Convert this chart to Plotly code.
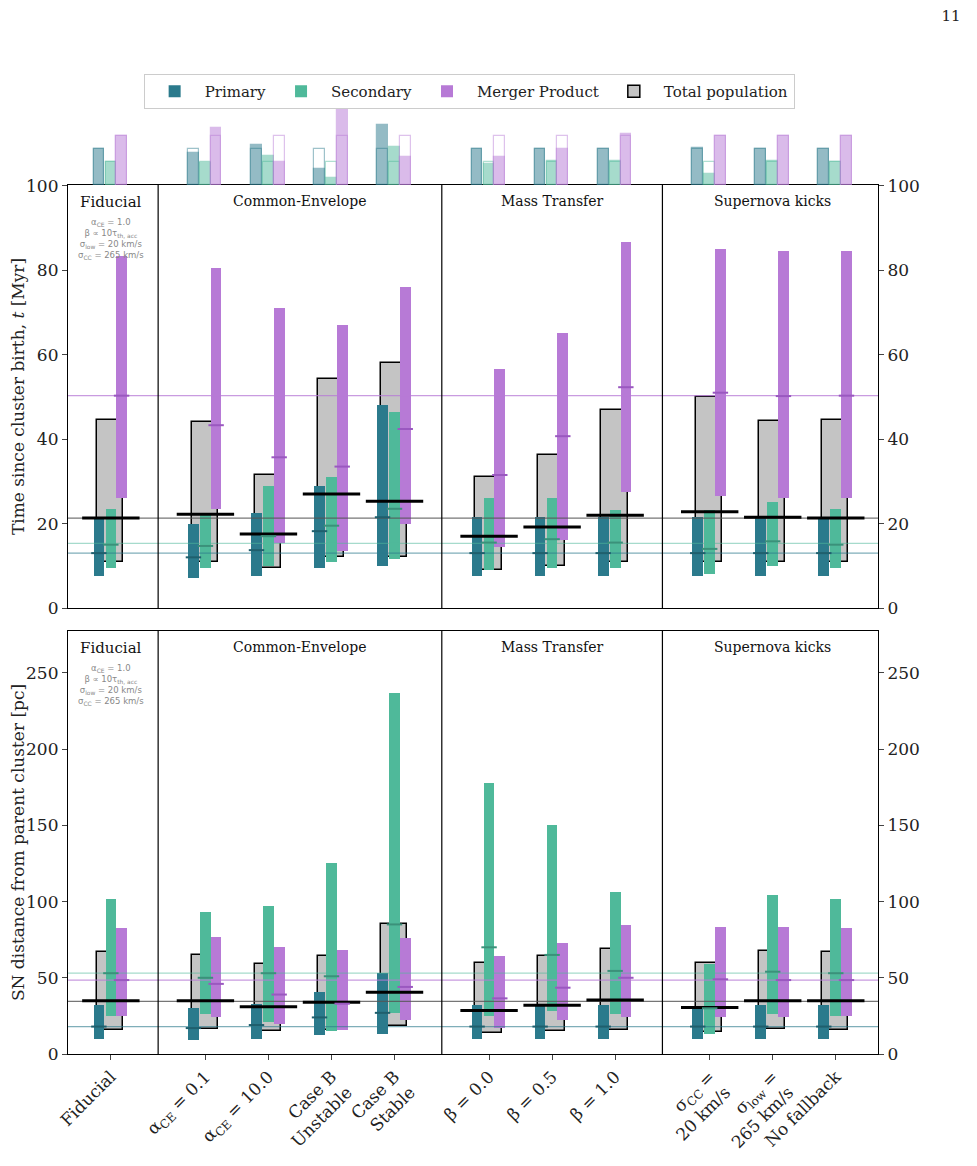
import plotly.graph_objects as go

cats = ["Fiducial", "α<sub>CE</sub> = 0.1", "α<sub>CE</sub> = 10.0", "Case B<br>Unstable", "Case B<br>Stable",
        "β = 0.0", "β = 0.5", "β = 1.0", "σ<sub>CC</sub> =<br>20 km/s", "σ<sub>low</sub> =<br>265 km/s", "No fallback"]
pos = [0, 1.5, 2.5, 3.5, 4.5, 6.0, 7.0, 8.0, 9.5, 10.5, 11.5]
seps = [0.75, 5.25, 8.75]
groups = ["Fiducial", "Common-Envelope", "Mass Transfer", "Supernova kicks"]
group_x = [0, 3.0, 7.0, 10.5]

# histogram heights (arbitrary units)
h_prim = [36, 32, 40, 16, 60, 36, 36, 36, 37, 36, 36]
h_sec = [23, 22, 29, 7, 38, 21, 24, 24, 11, 24, 23]
h_merg = [49, 57, 23, 80, 28, 28, 36, 51, 49, 49, 49]

# time panel [Myr]
t_tot_lo = [10.8, 11, 9.5, 12, 12, 9, 10, 11, 11, 11, 10.8]
t_tot_hi = [44.6, 44, 31.5, 54.2, 58, 31, 36.2, 47, 50, 44.3, 44.5]
t_tot_med = [21.3, 22.2, 17.5, 27, 25.3, 17, 19.2, 22, 22.8, 21.5, 21.3]
t_p_lo = [7.5, 7, 7.5, 9.5, 10, 7.5, 7.5, 7.5, 7.5, 7.5, 7.5]
t_p_hi = [21.5, 20, 22.5, 29, 48, 21.5, 21.5, 21.5, 21.5, 21.5, 21.5]
t_p_med = [13, 12, 13.7, 18.2, 21.5, 13, 13, 13, 13, 13, 13]
t_s_lo = [9.5, 9.5, 10, 11, 11.5, 9, 9.5, 9.5, 8, 10, 9.5]
t_s_hi = [23.5, 22.5, 29, 31, 46.5, 26, 26, 23.3, 23.3, 25, 23.4]
t_s_med = [15, 14.7, 17, 19.5, 23.5, 15.5, 16.3, 15.5, 14, 15.8, 15]
t_m_lo = [26, 23.5, 15.5, 13.5, 20, 14.5, 16, 27.5, 26.5, 26, 26]
t_m_hi = [83.5, 80.5, 71, 67, 76, 56.7, 65.2, 86.6, 85, 84.5, 84.5]
t_m_med = [50.3, 43.3, 35.7, 33.5, 42.4, 31.5, 40.7, 52.3, 51, 50.2, 50.3]
t_ref = [21.3, 13, 15.3, 50.3]

# distance panel [pc]
d_tot_lo = [16, 16.5, 15, 16, 18.5, 14, 15, 16, 14.5, 16.5, 16]
d_tot_hi = [67, 65, 59, 64, 85, 59.5, 64.5, 69, 59.5, 67.5, 67]
d_tot_med = [35, 35, 31, 34, 40.5, 28.5, 32, 35.5, 30.5, 35, 35]
d_p_lo = [10, 9.5, 10, 12.5, 13, 10, 10, 10, 10, 10, 10]
d_p_hi = [32, 30, 33, 41, 53, 32, 32, 32, 31, 32, 32]
d_p_med = [18, 17, 19, 24, 27, 18, 18, 18, 18, 18, 18]
d_s_lo = [25, 26, 21, 15, 27, 25, 28, 26, 13, 26, 25]
d_s_hi = [102, 93, 97, 125, 237, 178, 150.5, 106.5, 59, 104, 102]
d_s_med = [53, 50, 53, 51, 85, 70, 65, 54.5, 30, 54, 53]
d_m_lo = [25, 24.5, 19.5, 16, 22, 17, 22, 24.5, 24, 24.5, 25]
d_m_hi = [82.5, 77, 70, 68, 76, 64.5, 73, 84.5, 83, 83, 82.5]
d_m_med = [48.5, 46, 39, 33, 44, 36.5, 43.5, 50, 49, 48.5, 48.5]
d_ref = [34.5, 18, 53, 48.5]

C_P, C_S, C_M, C_T = "#2b7a8c", "#4fb99a", "#b77ad6", "#c4c4c4"
D_P, D_S, D_M = "#1f5f6d", "#3b917a", "#9a58c0"
OFF = {"p": -0.19, "s": 0.0, "m": 0.17}
W = 0.17
XR = [-0.68, 12.17]
FONT = "DejaVu Serif"

fig = go.Figure()

def sh(off):
    return [p + off for p in pos]

def panel(xa, ya, tlo, thi, tmed, plo, phi, pmed, slo, shi, smed, mlo, mhi, mmed, ref, leg):
    for val, col, op in zip(ref, ["#555555", C_P, C_S, C_M], [0.8, 0.6, 0.5, 0.75]):
        fig.add_trace(go.Scatter(x=XR, y=[val, val], mode="lines", xaxis=xa, yaxis=ya,
                                 line=dict(color=col, width=1.3), opacity=op, showlegend=False, hoverinfo="skip"))
    fig.add_trace(go.Bar(x=pos, y=[h - l for h, l in zip(thi, tlo)], base=tlo, width=0.42,
                         offset=-0.22, marker=dict(color=C_T, line=dict(color="black", width=1.5)),
                         xaxis=xa, yaxis=ya, name="Total population", showlegend=leg, legendrank=4))
    fig.add_trace(go.Scatter(x=pos, y=tmed, mode="markers", xaxis=xa, yaxis=ya, showlegend=False,
                             marker=dict(symbol="line-ew", size=41, line=dict(color="black", width=3))))
    for key, lo, hi, med, col, dcol, nm, rk in [("p", plo, phi, pmed, C_P, D_P, "Primary", 1),
                                                ("s", slo, shi, smed, C_S, D_S, "Secondary", 2),
                                                ("m", mlo, mhi, mmed, C_M, D_M, "Merger Product", 3)]:
        fig.add_trace(go.Bar(x=sh(OFF[key]), y=[h - l for h, l in zip(hi, lo)], base=lo, width=W,
                             marker=dict(color=col, line=dict(width=0)), xaxis=xa, yaxis=ya,
                             name=nm, showlegend=leg, legendrank=rk))
        fig.add_trace(go.Scatter(x=sh(OFF[key]), y=med, mode="markers", xaxis=xa, yaxis=ya, showlegend=False,
                                 marker=dict(symbol="line-ew", size=11, line=dict(color=dcol, width=2))))

panel("x2", "y2", t_tot_lo, t_tot_hi, t_tot_med, t_p_lo, t_p_hi, t_p_med, t_s_lo, t_s_hi, t_s_med,
      t_m_lo, t_m_hi, t_m_med, t_ref, True)
panel("x", "y", d_tot_lo, d_tot_hi, d_tot_med, d_p_lo, d_p_hi, d_p_med, d_s_lo, d_s_hi, d_s_med,
      d_m_lo, d_m_hi, d_m_med, d_ref, False)

for key, hv, col in [("p", h_prim, C_P), ("s", h_sec, C_S), ("m", h_merg, C_M)]:
    fig.add_trace(go.Bar(x=sh(OFF[key]), y=[hv[0]] * len(pos), width=W, xaxis="x3", yaxis="y3",
                         marker=dict(color="rgba(0,0,0,0)", line=dict(color=col, width=1.2)),
                         opacity=0.45, showlegend=False))
    fig.add_trace(go.Bar(x=sh(OFF[key]), y=hv, width=W, xaxis="x3", yaxis="y3",
                         marker=dict(color=col, opacity=0.5, line=dict(color=col, width=1.2)),
                         showlegend=False))

fig.add_trace(go.Scatter(x=[0], y=[0], xaxis="x2", yaxis="y4", mode="markers", opacity=0, showlegend=False))
fig.add_trace(go.Scatter(x=[0], y=[0], xaxis="x", yaxis="y5", mode="markers", opacity=0, showlegend=False))

H = 1166 - 60 - 112
def fr(p):
    return (1054 - p) / H

ax_common = dict(range=XR, showline=True, mirror=True, linecolor="black", linewidth=1.2, showgrid=False, zeroline=False)
yc = dict(showline=True, mirror=True, linecolor="black", linewidth=1.2, showgrid=False, zeroline=False,
          ticks="outside", ticklen=5, tickfont=dict(size=17))

fig.update_layout(
    width=977, height=1166, plot_bgcolor="white", paper_bgcolor="white",
    margin=dict(l=60, r=107, t=52, b=120, autoexpand=False),
    font=dict(family=FONT, color="#222"),
    title=dict(text="11", x=0.975, xanchor="right", y=0.998, yanchor="top", yref="container",
               font=dict(size=15, family=FONT, color="#222")),
    barmode="overlay", bargap=0,
    xaxis=dict(**ax_common, tickvals=pos, ticktext=cats, tickangle=-45, ticks="outside", ticklen=5,
               tickfont=dict(size=17), anchor="y"),
    xaxis2=dict(**ax_common, tickvals=pos, showticklabels=False, ticks="", anchor="y2", matches="x"),
    xaxis3=dict(range=XR, visible=False, anchor="y3", matches="x"),
    yaxis=dict(**yc, domain=[0, fr(631)], range=[0, 277.5], tickvals=[0, 50, 100, 150, 200, 250],
               title=dict(text="SN distance from parent cluster [pc]", font=dict(size=17), standoff=8)),
    yaxis2=dict(**yc, domain=[fr(608), fr(185)], range=[0, 100.2], tickvals=[0, 20, 40, 60, 80, 100],
                title=dict(text="Time since cluster birth, <i>t</i> [Myr]", font=dict(size=17), standoff=8)),
    yaxis3=dict(domain=[fr(185), fr(100)], range=[0, 85], visible=False),
    yaxis4=dict(overlaying="y2", side="right", range=[0, 100.2], tickvals=[0, 20, 40, 60, 80, 100],
                ticks="outside", ticklen=5, tickfont=dict(size=17), showgrid=False, zeroline=False, anchor="x2"),
    yaxis5=dict(overlaying="y", side="right", range=[0, 277.5], tickvals=[0, 50, 100, 150, 200, 250],
                ticks="outside", ticklen=5, tickfont=dict(size=17), showgrid=False, zeroline=False, anchor="x"),
    legend=dict(orientation="h", x=0.472, xanchor="center", y=1 - 66 / 1166, yanchor="top", yref="container",
                xref="container", bordercolor="#cccccc", borderwidth=1, font=dict(size=15),
                itemwidth=50),
)

shapes = []
for s in seps:
    for ya in ["y", "y2"]:
        shapes.append(dict(type="line", xref="x", yref=ya + " domain", x0=s, x1=s, y0=0, y1=1,
                           line=dict(color="black", width=1.2)))
fig.update_layout(shapes=shapes)

ann = []
for g, gx in zip(groups, group_x):
    for ya in ["y2 domain", "y domain"]:
        ann.append(dict(text=g, xref="x", yref=ya, x=gx, y=0.985, yanchor="top", showarrow=False,
                        font=dict(size=15 if g == "Fiducial" else 14, color="#111")))
fid_txt = "α<sub>CE</sub> = 1.0<br>β ∝ 10τ<sub>th, acc</sub><br>σ<sub>low</sub> = 20 km/s<br>σ<sub>CC</sub> = 265 km/s"
for ya in ["y2 domain", "y domain"]:
    ann.append(dict(text=fid_txt, xref="x", yref=ya, x=0, y=0.93, yanchor="top", showarrow=False,
                    font=dict(size=8.5, color="#888", family="DejaVu Sans")))
fig.update_layout(annotations=ann)

fig.write_html("out.html")
